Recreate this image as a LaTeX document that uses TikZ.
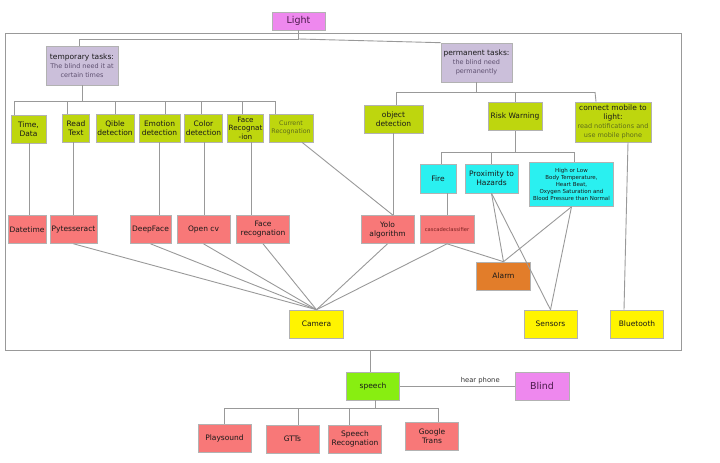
\documentclass[tikz,border=0pt]{standalone}
\usepackage{fontspec}
\setmainfont{DejaVu Sans}
\usetikzlibrary{positioning}
\definecolor{Violet}{HTML}{EE88EE}
\definecolor{Grape}{HTML}{4A1A4A}
\definecolor{Lavender}{HTML}{CBBFDA}
\definecolor{Dusk}{HTML}{5E5070}
\definecolor{Lime}{HTML}{BED60E}
\definecolor{Olive}{HTML}{5F6E1A}
\definecolor{Salmon}{HTML}{F87878}
\definecolor{Maroon}{HTML}{7A2020}
\definecolor{Aqua}{HTML}{2AF0F0}
\definecolor{Amber}{HTML}{E27D2A}
\definecolor{Lemon}{HTML}{FFF400}
\definecolor{Chartreuse}{HTML}{88EE11}
\definecolor{Wire}{HTML}{999999}
\newcommand{\subline}[1]{{\fontsize{6.5}{8}\selectfont\color{Dusk}#1}}

\begin{document}
\begin{tikzpicture}[x=1pt,y=-1pt,
    box/.style={draw=black!30,line width=0.6pt,inner sep=1pt,align=center,
      minimum width=53pt,minimum height=28pt,
      font=\fontsize{7.5}{9}\selectfont,text=black!90},
    task/.style={box,fill=Lavender,minimum width=72pt,minimum height=39pt},
    green/.style={box,fill=Lime},
    red/.style={box,fill=Salmon},
    cyan/.style={box,fill=Aqua},
    yellow/.style={box,fill=Lemon},
    pink/.style={box,fill=Violet,text=Grape},
    wire/.style={draw=Wire,line width=0.9pt}
  ]
  \useasboundingbox (0,0) rectangle (720,463);
  \node[draw=Wire,line width=0.9pt,minimum width=676pt,minimum height=317pt,inner sep=0pt] (frame) at (343,191.5) {};

  \node[pink,minimum height=18pt,font=\fontsize{9.5}{11}\selectfont] (light) at (298.5,21) {Light};
  \node[task] (temp) at (82,65.5) {temporary tasks:\\\subline{The blind need it at}\\\subline{certain times}};
  \node[task,minimum width=71pt] (perm) at (476.5,62.5) {permanent tasks:\\\subline{the blind need}\\\subline{permanently}};

  \node[green,minimum width=35pt] (timedata) at (28.5,129) {Time,\\Data};
  \node[green,minimum width=27pt] (readtext) at (76,128) {Read\\Text};
  \node[green,minimum width=38pt] (qible) at (115,128) {Qible\\detection};
  \node[green,minimum width=41pt] (emotion) at (159.5,128) {Emotion\\detection};
  \node[green,minimum width=38pt] (color) at (203.5,128) {Color\\detection};
  \node[green,minimum width=35pt,font=\fontsize{7.2}{8.5}\selectfont] (facerec) at (245.5,128) {Face\\Recognat\\-ion};
  \node[green,minimum width=44pt,font=\fontsize{6.3}{8.5}\selectfont,text=Olive] (current) at (291,128) {Current\\Recognation};
  \node[green,minimum width=59pt] (objdet) at (393.5,119) {object\\detection};
  \node[green,minimum width=54pt] (risk) at (515,116.5) {Risk Warning};
  \node[green,minimum width=76pt,minimum height=40pt] (mobile) at (613,122)
    {connect mobile to\\light:\\{\fontsize{6.5}{8}\selectfont\color{Olive}read notifications and}\\{\fontsize{6.5}{8}\selectfont\color{Olive}use mobile phone}};

  \node[cyan,minimum width=36pt,minimum height=29pt] (fire) at (438,178.5) {Fire};
  \node[cyan,minimum height=29pt] (prox) at (491.5,178.5) {Proximity to\\Hazards};
  \node[cyan,minimum width=84pt,minimum height=44pt,font=\fontsize{5.5}{7}\selectfont] (vital) at (571.5,184.5)
    {High or Low\\Body Temperature,\\Heart Beat,\\Oxygen Saturation and\\Blood Pressure than Normal};

  \node[red,minimum width=38pt] (datetime) at (27,229.5) {Datetime};
  \node[red,minimum width=47pt] (pytess) at (73.5,229.5) {Pytesseract};
  \node[red,minimum width=41pt] (deepface) at (150.5,229.5) {DeepFace};
  \node[red] (opencv) at (203.5,229.5) {Open cv};
  \node[red] (facerecog) at (263,229.5) {Face\\recognation};
  \node[red] (yolo) at (387.5,229.5) {Yolo\\algorithm};
  \node[red,minimum width=54pt,font=\fontsize{5.2}{6}\selectfont,text=Maroon] (cascade) at (447,229.5) {cascadeclassifier};

  \node[box,fill=Amber,minimum width=54pt] (alarm) at (503.5,276) {Alarm};
  \node[yellow,minimum width=54pt] (camera) at (316.5,324) {Camera};
  \node[yellow] (sensors) at (550.5,324) {Sensors};
  \node[yellow] (bluetooth) at (637,324) {Bluetooth};

  \node[box,fill=Chartreuse] (speech) at (373,386) {speech};
  \node[pink,minimum width=54pt,font=\fontsize{9.5}{11}\selectfont] (blind) at (542,386) {Blind};
  \node[red] (playsound) at (224.5,438.5) {Playsound};
  \node[red] (gtts) at (292.5,439) {GTTs};
  \node[red] (speechrec) at (355,439) {Speech\\Recognation};
  \node[red] (google) at (432,436.5) {Google\\Trans};

  \coordinate (lj) at (298.5,39);
  \draw[wire] (light.south) -- (lj) -| (temp.north -| 79,0);
  \draw[wire] (lj) -- (perm.north west);

  \coordinate (tl) at (14,101);
  \coordinate (tr) at (275,101);
  \draw[wire] (temp.south) -- (temp.south |- tl);
  \draw[wire] (tl) -- (tr);
  \foreach \n/\x in {timedata/14,readtext/67,qible/115,emotion/165,color/201,facerec/242,current/275}
    \draw[wire] (tl -| \x,0) -- (\n.north -| \x,0);

  \coordinate (pl) at (396,92);
  \coordinate (pr) at (595,92);
  \draw[wire] (perm.south) -- (perm.south |- pl);
  \draw[wire] (pl) -- (pr);
  \draw[wire] (pl) -- (objdet.north -| pl);
  \draw[wire] (risk.north |- pl) -- (risk.north);
  \draw[wire] (pr) -- (mobile.north -| 596,0);

  \coordinate (rl) at (441,152);
  \coordinate (rr) at (574,152);
  \draw[wire] (risk.south) -- (risk.south |- rl);
  \draw[wire] (rl) -- (rr);
  \draw[wire] (rl) -- (fire.north -| rl);
  \draw[wire] (prox.north |- rl) -- (prox.north);
  \draw[wire] (rr) -- (vital.north -| rr);

  \foreach \a/\b/\x in {timedata/datetime/29,readtext/pytess/73,emotion/deepface/159,color/opencv/204,
      facerec/facerecog/251,objdet/yolo/393,fire/cascade/447}
    \draw[wire] (\a.south -| \x,0) -- (\b.north -| \x,0);
  \draw[wire] (current.south -| 302,0) -- (yolo.north -| 393,0);

  \foreach \n in {pytess,deepface,opencv,facerecog,yolo,cascade}
    \draw[wire] (\n.south) -- (camera.north);
  \foreach \n in {cascade,prox,vital}
    \draw[wire] (\n.south) -- (alarm.north);
  \draw[wire] (prox.south) -- (sensors.north);
  \draw[wire] (vital.south) -- (sensors.north);
  \draw[wire] (mobile.south -| 628,0) -- (bluetooth.north -| 624,0);

  \draw[wire] (frame.south -| 370,0) -- (speech.north -| 370,0);
  \draw[wire] (speech) -- node[pos=0.7,above,inner sep=1.5pt,font=\fontsize{6.8}{8}\selectfont,text=black!80] {hear phone} (blind);
  \coordinate (sl) at (224,408);
  \coordinate (sr) at (438,408);
  \draw[wire] (speech.south -| 375,0) -- (sl -| 375,0);
  \draw[wire] (sl) -- (sr);
  \foreach \n/\x in {playsound/224,gtts/298,speechrec/349,google/438}
    \draw[wire] (sl -| \x,0) -- (\n.north -| \x,0);
\end{tikzpicture}
\end{document}
